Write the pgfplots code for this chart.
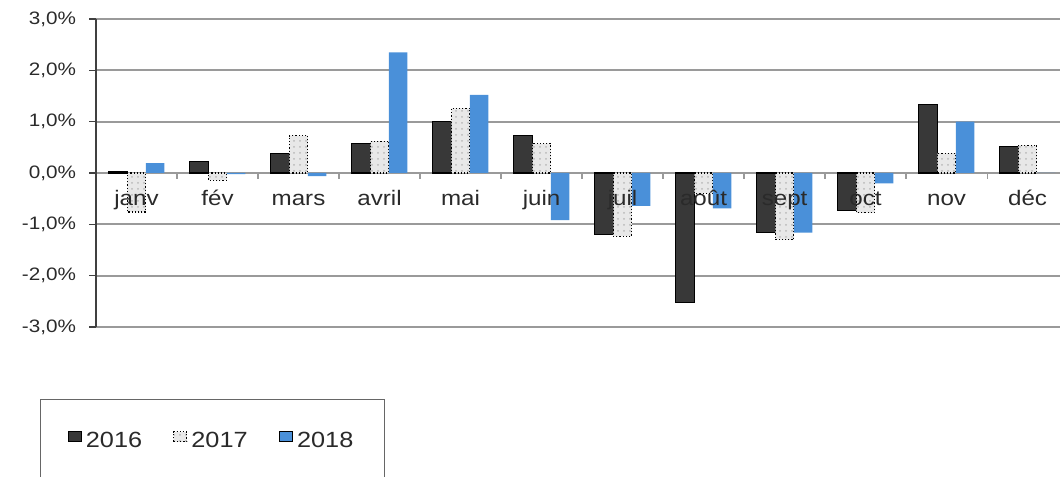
\documentclass[border=0pt]{standalone}
\usepackage{pgfplots}
\pgfplotsset{compat=1.18}
\usetikzlibrary{patterns}
\usepackage{fontspec}
\setmainfont{Liberation Sans}[FakeStretch=1.15]
\definecolor{c16}{HTML}{383838}
\definecolor{c17}{HTML}{E8E8E8}
\definecolor{c18}{HTML}{4A90D9}
\definecolor{gridc}{HTML}{9A9A9A}
\definecolor{txt}{HTML}{2A2A2A}
\pgfplotsset{sqlegend/.style={legend image code/.code={\draw[##1] (0.5pt,-0.4pt) rectangle (7pt,4.6pt);}}}
\begin{document}
\begin{tikzpicture}
\begin{axis}[
  at={(0pt,0pt)}, anchor=south west,
  scale only axis, width=482pt, height=154pt,
  set layers=standard,
  ybar=0pt, bar width=9.25pt,
  xmin=-0.5, xmax=11.4, ymin=-3, ymax=3,
  enlargelimits=false,
  axis x line=middle, axis y line=left,
  axis line style={-},
  x axis line style={draw=gridc, line width=0.9pt},
  y axis line style={draw=black!75, line width=0.9pt},
  ymajorgrids, grid style={draw=gridc, line width=0.9pt},
  ytick={-3,-2,-1,0,1,2,3},
  xtick={0,1,2,3,4,5,6,7,8,9,10,11},
  xticklabels={janv,fév,mars,avril,mai,juin,juil,août,sept,oct,nov,déc},
  minor xtick={0.5,1.5,2.5,3.5,4.5,5.5,6.5,7.5,8.5,9.5,10.5},
  major x tick style={draw=none},
  minor x tick style={draw=gridc, line width=0.6pt},
  ytick style={draw=black!75, line width=0.8pt},
  major tick length=3.5pt, minor tick length=3pt,
  tick align=outside,
  yticklabel={\pgfmathprintnumber{\tick}\%},
  y tick label style={/pgf/number format/fixed, /pgf/number format/fixed zerofill,
    /pgf/number format/precision=1, /pgf/number format/use comma,
    /pgf/number format/assume math mode=true,
    font=\fontsize{9}{10}\selectfont, text=txt, xshift=-3pt},
  x tick label style={/pgfplots/on layer=axis foreground,
    font=\fontsize{10.5}{11}\selectfont, text=txt, anchor=base, yshift=-13pt},
  legend columns=3,
  legend cell align=left,
  legend style={at={(axis description cs:0,0)}, anchor=north west,
    xshift=-28pt, yshift=-36pt, draw=black!60, line width=0.7pt,
    inner xsep=13.5pt, inner ysep=14pt,
    font=\fontsize{11}{13}\selectfont, text=txt,
    /tikz/every even column/.append style={column sep=13.5pt}},
]
\addplot[sqlegend, fill=c16, draw=black, line width=0.6pt] coordinates {
  (0,0.03) (1,0.23) (2,0.38) (3,0.58) (4,1.00) (5,0.73)
  (6,-1.20) (7,-2.53) (8,-1.16) (9,-0.73) (10,1.34) (11,0.52)};
\addlegendentry{2016}
\addplot[sqlegend, fill=c17, draw=black, line width=0.6pt, densely dotted,
  postaction={pattern=dots, pattern color=gray!55}] coordinates {
  (0,-0.76) (1,-0.14) (2,0.73) (3,0.62) (4,1.26) (5,0.57)
  (6,-1.23) (7,-0.40) (8,-1.30) (9,-0.77) (10,0.38) (11,0.54)};
\addlegendentry{2017}
\addplot[sqlegend, fill=c18, draw=none] coordinates {
  (0,0.19) (1,-0.02) (2,-0.06) (3,2.35) (4,1.52) (5,-0.92)
  (6,-0.64) (7,-0.69) (8,-1.16) (9,-0.20) (10,1.00) (11,0)};
\addlegendentry{2018}
\end{axis}
\pgfresetboundingbox
\path[use as bounding box] ([xshift=-48pt,yshift=-75pt]current axis.south west) rectangle ([yshift=9.5pt]current axis.north east);
\end{tikzpicture}
\end{document}
